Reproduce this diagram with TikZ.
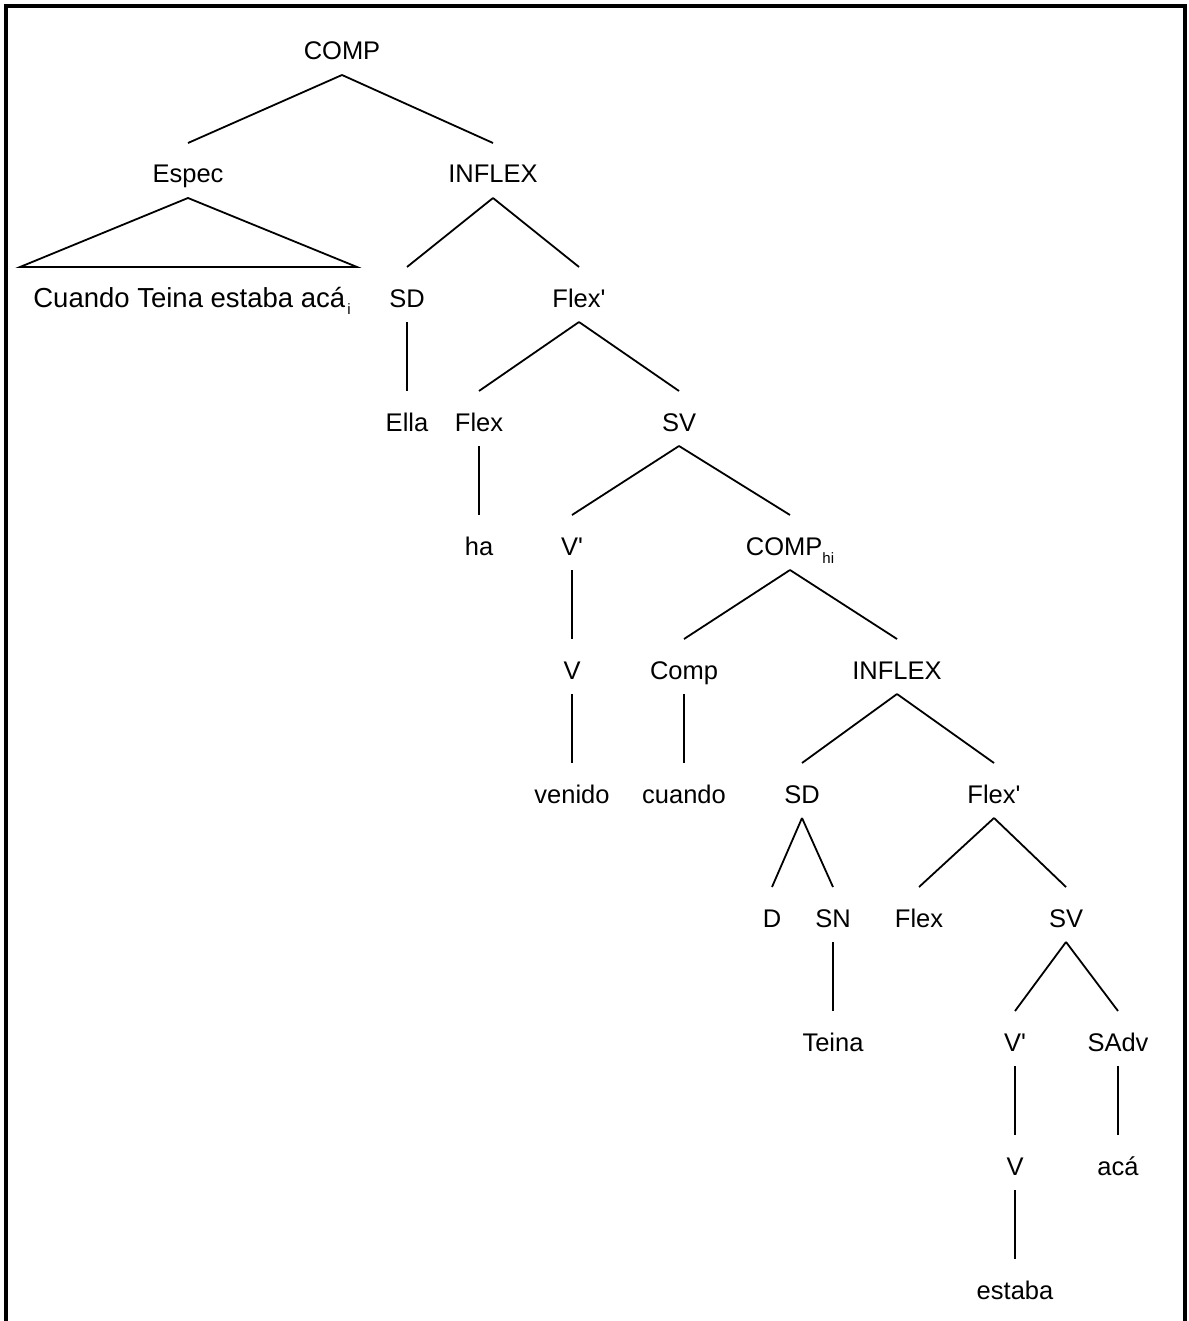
\documentclass[tikz,border=0pt]{standalone}
\usepackage{fontspec}
\setmainfont{Liberation Sans}
\newcommand\lowsubtxt[1]{\raisebox{-8pt}{\fontsize{15}{15}\selectfont #1}}
\newcommand\treeedge[2]{\draw[edge] ([yshift=-15pt]#1.base) -- ([yshift=40pt]#2.base);}
\newcommand\prm{\textquotesingle}
\begin{document}
\begin{tikzpicture}[x=1pt,y=-1pt,
  lab/.style={anchor=base,inner sep=0pt,font=\fontsize{25.5}{30}\selectfont},
  edge/.style={line width=1.8pt,black},
  frame/.style={line width=4pt,black}]
\useasboundingbox (0,0) rectangle (1188,1321);
\draw[frame] (5.5,1321) -- (5.5,6) -- (1184.5,6) -- (1184.5,1321);
% level 0
\node[lab] (comp) at (342,60) {COMP};
% level 1
\node[lab] (espec) at (188,183) {Espec};
\node[lab] (infla) at (493,183) {INFLEX};
% level 2
\node[lab,font=\fontsize{27.5}{30}\selectfont] (cuando) at (192,307) {Cuando Teina estaba acá\hspace{2pt}\lowsubtxt{i}};
\node[lab] (sda) at (407,307) {SD};
\node[lab] (flexba) at (579,307) {Flex\prm};
% level 3
\node[lab] (ella) at (407,431) {Ella};
\node[lab] (flexa) at (479,431) {Flex};
\node[lab] (sva) at (679,431) {SV};
% level 4
\node[lab] (ha) at (479,555) {ha};
\node[lab] (vba) at (572,555) {V\prm};
\node[lab] (comphi) at (790,555) {COMP\lowsubtxt{hi}};
% level 5
\node[lab] (va) at (572,679) {V};
\node[lab] (compb) at (684,679) {Comp};
\node[lab] (inflb) at (897,679) {INFLEX};
% level 6
\node[lab] (venido) at (572,803) {venido};
\node[lab] (cuandob) at (684,803) {cuando};
\node[lab] (sdb) at (802,803) {SD};
\node[lab] (flexbb) at (994,803) {Flex\prm};
% level 7
\node[lab] (d) at (772,927) {D};
\node[lab] (sn) at (833,927) {SN};
\node[lab] (flexb) at (919,927) {Flex};
\node[lab] (svb) at (1066,927) {SV};
% level 8
\node[lab] (teina) at (833,1051) {Teina};
\node[lab] (vbb) at (1015,1051) {V\prm};
\node[lab] (sadv) at (1118,1051) {SAdv};
% level 9
\node[lab] (vb) at (1015,1175) {V};
\node[lab] (aca) at (1118,1175) {acá};
% level 10
\node[lab] (estaba) at (1015,1299) {estaba};
% triangle
\coordinate (triL) at (20,267);
\coordinate (triR) at (357,267);
\draw[edge] ([yshift=-15pt]espec.base) -- (triL) -- (triR) -- cycle;
% edges
\treeedge{comp}{espec}
\treeedge{comp}{infla}
\treeedge{infla}{sda}
\treeedge{infla}{flexba}
\treeedge{sda}{ella}
\treeedge{flexba}{flexa}
\treeedge{flexba}{sva}
\treeedge{flexa}{ha}
\treeedge{sva}{vba}
\treeedge{sva}{comphi}
\treeedge{vba}{va}
\treeedge{va}{venido}
\treeedge{comphi}{compb}
\treeedge{comphi}{inflb}
\treeedge{compb}{cuandob}
\treeedge{inflb}{sdb}
\treeedge{inflb}{flexbb}
\treeedge{sdb}{d}
\treeedge{sdb}{sn}
\treeedge{sn}{teina}
\treeedge{flexbb}{flexb}
\treeedge{flexbb}{svb}
\treeedge{svb}{vbb}
\treeedge{svb}{sadv}
\treeedge{vbb}{vb}
\treeedge{sadv}{aca}
\treeedge{vb}{estaba}
\end{tikzpicture}
\end{document}
